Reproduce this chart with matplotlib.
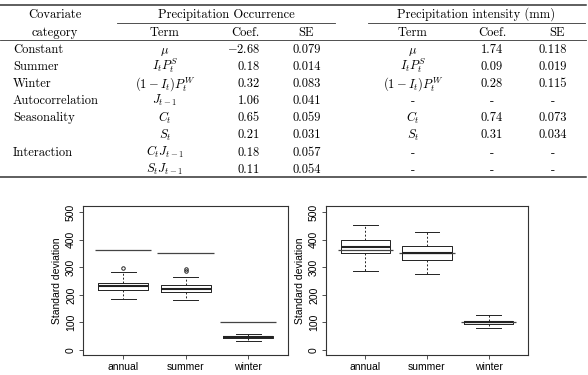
import matplotlib.pyplot as plt
from matplotlib.lines import Line2D

plt.rcParams["mathtext.fontset"] = "cm"

# ---- table data ----
categories = ["Constant", "Summer", "Winter", "Autocorrelation", "Seasonality", "", "Interaction", ""]
occ_terms = [r"$\mu$", r"$I_tP_t^S$", r"$(1-I_t)P_t^W$", r"$J_{t-1}$", r"$C_t$", r"$S_t$",
             r"$C_tJ_{t-1}$", r"$S_tJ_{t-1}$"]
occ_coef = [r"$-2.68$", "0.18", "0.32", "1.06", "0.65", "0.21", "0.18", "0.11"]
occ_se = ["0.079", "0.014", "0.083", "0.041", "0.059", "0.031", "0.057", "0.054"]
int_terms = [r"$\mu$", r"$I_tP_t^S$", r"$(1-I_t)P_t^W$", "-", r"$C_t$", r"$S_t$", "-", "-"]
int_coef = ["1.74", "0.09", "0.28", "-", "0.74", "0.31", "-", "-"]
int_se = ["0.118", "0.019", "0.115", "-", "0.073", "0.034", "-", "-"]

# ---- boxplot data (standard deviation) ----
seasons = ["annual", "summer", "winter"]
# left panel: (whislo, q1, med, q3, whishi), outliers, observed
left_stats = [(186, 216, 231, 244, 281), (182, 209, 223, 237, 264), (33, 43, 47, 51, 59)]
left_fliers = [[296], [286, 292], []]
left_obs = [361, 350, 102]
# right panel
right_stats = [(286, 350, 372, 398, 454), (274, 328, 350, 377, 427), (80, 96, 101, 106, 127)]
right_fliers = [[], [], []]
right_obs = [361, 350, 101]

fig = plt.figure(figsize=(5.88, 3.75), dpi=100)

# table drawn on a pixel-coordinate overlay
tab = fig.add_axes([0, 0, 1, 1])
tab.set_xlim(0, 588)
tab.set_ylim(375, 0)
tab.axis("off")

fs = 9
tfont = dict(family="cmr10", fontsize=fs, va="baseline")

for y, lw, x0, x1 in [(5, 1.1, 0, 586), (40, 0.6, 0, 586), (177, 1.1, 0, 586),
                      (23, 0.6, 117, 335), (23, 0.6, 368, 585)]:
    tab.add_line(Line2D([x0, x1], [y, y], color="#333333", lw=lw))

tab.text(55, 18, "Covariate", ha="center", **tfont)
tab.text(226, 18, "Precipitation Occurrence", ha="center", **tfont)
tab.text(476, 18, "Precipitation intensity (mm)", ha="center", **tfont)
for x, s in [(55, "category"), (165, "Term"), (245, "Coef."), (306, "SE"),
             (413, "Term"), (492, "Coef."), (557, "SE")]:
    tab.text(x, 36, s, ha="center", **tfont)

for i in range(len(categories)):
    y = 53 + i * 17.1
    tab.text(13, y, categories[i], ha="left", **tfont)
    tab.text(165, y, occ_terms[i], ha="center", **tfont)
    tab.text(260, y, occ_coef[i], ha="right", **tfont)
    tab.text(307, y, occ_se[i], ha="center", **tfont)
    tab.text(413, y, int_terms[i], ha="center", **tfont)
    tab.text(492, y, int_coef[i], ha="center", **tfont)
    tab.text(553, y, int_se[i], ha="center", **tfont)

pfont = dict(fontsize=7.5, family="Liberation Sans")


def panel(rect, stats, fliers, obs):
    ax = fig.add_axes(rect)
    bx = []
    for (lo, q1, med, q3, hi), fl, name in zip(stats, fliers, seasons):
        bx.append(dict(whislo=lo, q1=q1, med=med, q3=q3, whishi=hi, fliers=fl, label=name))
    pos = [1, 2, 3]
    ax.bxp(bx, positions=pos, widths=0.8,
           boxprops=dict(color="#222222", lw=0.7),
           medianprops=dict(color="#222222", lw=1.5),
           whiskerprops=dict(color="#222222", lw=0.7, ls=(0, (2, 2))),
           capprops=dict(color="#222222", lw=0.7), capwidths=0.4,
           flierprops=dict(marker="o", markersize=2.5, markerfacecolor="none",
                           markeredgecolor="#222222", markeredgewidth=0.7))
    ax.hlines(obs, [p - 0.45 for p in pos], [p + 0.45 for p in pos], color="#444444", lw=0.9)
    ax.set_xlim(0.36, 3.64)
    ax.set_ylim(-18, 522)
    ax.set_yticks([0, 100, 200, 300, 400, 500])
    ax.set_xticks(pos)
    ax.set_xticklabels(seasons, **pfont)
    ax.set_yticklabels(["0", "100", "200", "300", "400", "500"], rotation=90, va="center", **pfont)
    ax.tick_params(length=3, width=0.6, pad=2, color="#333333")
    ax.set_ylabel("Standard deviation", labelpad=3, **pfont)
    for sp in ax.spines.values():
        sp.set_linewidth(0.8)
        sp.set_color("#333333")
    return ax


panel([83 / 588, 1 - 355 / 375, 205 / 588, 149 / 375], left_stats, left_fliers, left_obs)
panel([326 / 588, 1 - 355 / 375, 202 / 588, 149 / 375], right_stats, right_fliers, right_obs)

fig.savefig("out.png", dpi=100)
